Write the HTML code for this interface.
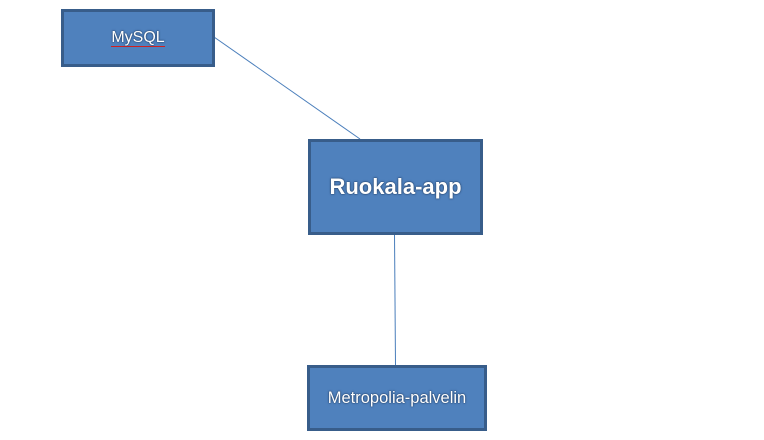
<!DOCTYPE html>
<html><head><style>
body{margin:0;width:764px;height:440px;background:#fff;position:relative;overflow:hidden;font-family:"Liberation Sans",sans-serif}
.b{position:absolute;box-sizing:border-box;background:#4f81bd;border:3px solid #385d8a;color:#fff;display:flex;align-items:center;justify-content:center;text-shadow:0 0 2px #1f3a5f,0 0 1px #1f3a5f}
</style></head><body>
<svg width="764" height="440" style="position:absolute;left:0;top:0">
<line x1="214" y1="37" x2="360" y2="139" stroke="#4a7ebb" stroke-width="1"/>
<line x1="394.5" y1="234" x2="395.5" y2="365" stroke="#4a7ebb" stroke-width="1"/>
</svg>
<div class="b" style="left:61px;top:9px;width:154px;height:58px;font-size:16px"><span style="border-bottom:1px solid #d02020;line-height:16px">MySQL</span></div>
<div class="b" style="left:308px;top:139px;width:175px;height:96px;font-size:22px;font-weight:bold">Ruokala-app</div>
<div class="b" style="left:307px;top:365px;width:180px;height:66px;font-size:16.5px">Metropolia-palvelin</div>
</body></html>
